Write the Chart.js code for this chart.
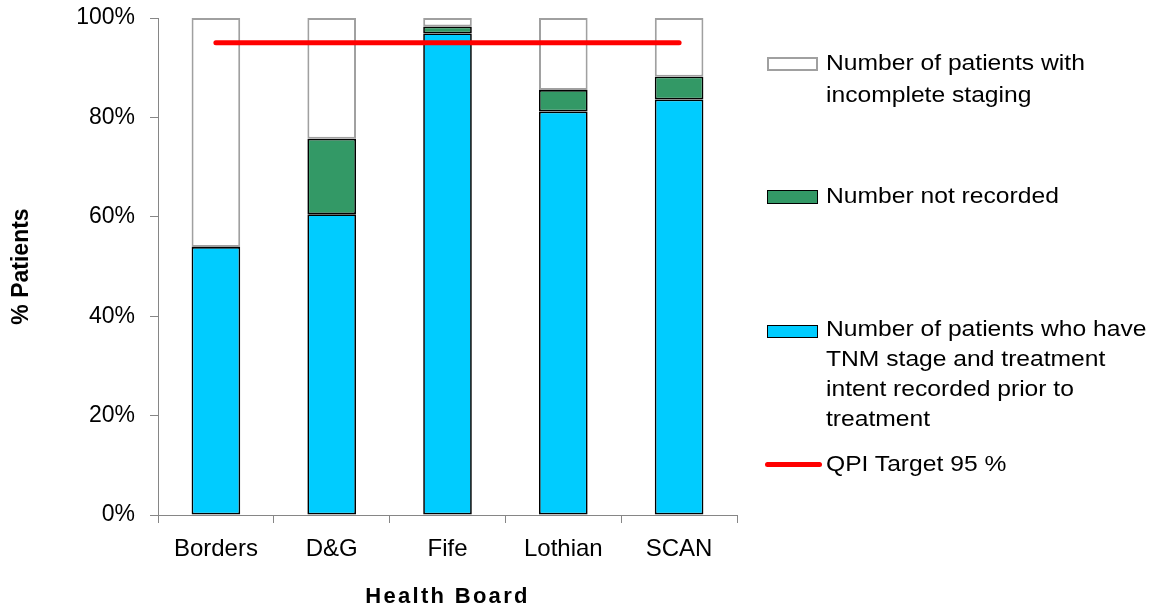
<!DOCTYPE html>
<html>
<head>
<meta charset="utf-8">
<title>Staging completeness by Health Board</title>
<script src="https://cdn.jsdelivr.net/npm/chart.js@4/dist/chart.umd.min.js"></script>
<style>
  html, body { margin: 0; padding: 0; background: #ffffff; }
  #wrap { position: relative; width: 1157px; height: 610px; overflow: hidden; }
  #c { position: absolute; left: 0; top: 0; }
  .key { position: absolute; box-sizing: border-box; }
  .txt {
    position: absolute; left: 826px; white-space: nowrap;
    font-family: "Liberation Sans", Arial, sans-serif; font-size: 22px; color: #000;
    transform: scaleX(1.12); transform-origin: 0 0;
  }
</style>
</head>
<body>
<div id="wrap">
  <canvas id="c" width="1157" height="610"></canvas>
  <div id="legend"></div>
</div>
<script>
// Health boards along the x axis
const boards = ['Borders', 'D&G', 'Fife', 'Lothian', 'SCAN'];

// Percent of patients in each stacked segment (bottom to top)
const stagedPct       = [53.9, 60.5, 96.9, 81.2, 83.6];
const notRecordedPct  = [0.0, 15.2, 1.4, 4.3, 4.6];
const incompletePct   = [46.1, 24.3, 1.7, 14.5, 11.8];

// QPI target line
const targetPct = [95, 95, 95, 95, 95];

// Y axis ticks
const yTickValues = [0, 20, 40, 60, 80, 100];

// Series names (legend lines)
const nameIncomplete  = ['Number of patients with', 'incomplete staging'];
const nameNotRecorded = ['Number not recorded'];
const nameStaged      = ['Number of patients who have', 'TNM stage and treatment', 'intent recorded prior to', 'treatment'];
const nameTarget      = ['QPI Target 95 %'];

const FONT = '"Liberation Sans", Arial, sans-serif';
const AXIS_GREY = '#868686';

// Space the letters of the x axis title a little wider
const titleSpacing = {
  id: 'titleSpacing',
  beforeDraw(chart) {
    const sc = chart.scales.x;
    if (sc && !sc._spacedTitle) {
      const orig = sc.drawTitle;
      sc.drawTitle = function () {
        const ctx = this.ctx;
        ctx.save();
        ctx.letterSpacing = '2.3px';
        orig.apply(this, arguments);
        ctx.restore();
      };
      sc._spacedTitle = true;
    }
  }
};

new Chart(document.getElementById('c'), {
  data: {
    labels: boards,
    datasets: [
      {
        type: 'line',
        label: nameTarget.join(' '),
        data: targetPct,
        stack: 'target',
        borderColor: '#ff0000',
        borderWidth: 5,
        borderCapStyle: 'round',
        pointRadius: 0,
        fill: false,
        order: -1
      },
      {
        type: 'bar',
        label: nameStaged.join(' '),
        data: stagedPct,
        stack: 'bars',
        backgroundColor: '#00ccff',
        borderColor: '#000000',
        borderWidth: 1.7,
        borderSkipped: false
      },
      {
        type: 'bar',
        label: nameNotRecorded.join(' '),
        data: notRecordedPct,
        stack: 'bars',
        backgroundColor: '#339966',
        borderColor: '#000000',
        borderWidth: 1.7,
        borderSkipped: false
      },
      {
        type: 'bar',
        label: nameIncomplete.join(' '),
        data: incompletePct,
        stack: 'bars',
        backgroundColor: '#ffffff',
        borderColor: '#a0a0a0',
        borderWidth: 2,
        borderSkipped: false
      }
    ]
  },
  options: {
    responsive: false,
    animation: false,
    devicePixelRatio: 1,
    categoryPercentage: 1,
    barPercentage: 0.42,
    layout: { padding: { left: 0, right: 420, top: 18, bottom: 0 } },
    plugins: { legend: { display: false }, tooltip: { enabled: false } },
    scales: {
      x: {
        stacked: true,
        offset: true,
        grid: {
          offset: true,
          drawOnChartArea: false,
          drawTicks: true,
          tickLength: 8,
          color: AXIS_GREY,
          tickColor: AXIS_GREY
        },
        border: { display: true, color: AXIS_GREY, width: 1 },
        ticks: {
          font: { family: FONT, size: 24 },
          color: '#000',
          padding: 12,
          maxRotation: 0
        },
        title: {
          display: true,
          text: 'Health Board',
          font: { family: FONT, size: 22, weight: 'bold', lineHeight: 1.2 },
          color: '#000',
          padding: { top: 0, bottom: 0 }
        },
        afterFit(scale) {
          scale.height = 95;
          scale.paddingLeft = 0;
          scale.paddingRight = 0;
        }
      },
      y: {
        stacked: true,
        min: 0,
        max: 100,
        afterBuildTicks(scale) { scale.ticks = yTickValues.map(v => ({ value: v })); },
        grid: {
          drawOnChartArea: false,
          drawTicks: true,
          tickLength: 8,
          color: AXIS_GREY,
          tickColor: AXIS_GREY
        },
        border: { display: true, color: AXIS_GREY, width: 1 },
        ticks: {
          font: { family: FONT, size: 23 },
          color: '#000',
          padding: 15,
          callback: v => v + '%'
        },
        title: {
          display: true,
          text: '% Patients',
          font: { family: FONT, size: 23, weight: 'bold', lineHeight: 1.2 },
          color: '#000',
          padding: { top: 8, bottom: 0 }
        },
        afterFit(scale) {
          scale.width = 158;
          scale.paddingTop = 0;
          scale.paddingBottom = 0;
        }
      }
    }
  },
  plugins: [titleSpacing]
});

// Legend on the right: key swatches and wrapped series names
const legend = document.getElementById('legend');
function addKey(style) {
  const d = document.createElement('div');
  d.className = 'key';
  Object.assign(d.style, style);
  legend.appendChild(d);
}
function addText(lines, top, lineHeight) {
  const d = document.createElement('div');
  d.className = 'txt';
  d.style.top = top + 'px';
  d.style.lineHeight = lineHeight + 'px';
  lines.forEach((t, i) => {
    if (i) d.appendChild(document.createElement('br'));
    d.appendChild(document.createTextNode(t));
  });
  legend.appendChild(d);
}

addKey({ left: '767px', top: '57px', width: '51px', height: '14px', background: '#fff', border: '2px solid #a0a0a0' });
addText(nameIncomplete, 47, 32);

addKey({ left: '767px', top: '190px', width: '51px', height: '14px', background: '#339966', border: '1.7px solid #000' });
addText(nameNotRecorded, 180, 32);

addKey({ left: '767px', top: '325px', width: '51px', height: '13px', background: '#00ccff', border: '1.7px solid #000' });
addText(nameStaged, 314, 30);

addKey({ left: '765px', top: '462px', width: '57px', height: '5px', background: '#ff0000', borderRadius: '3px' });
addText(nameTarget, 449, 30);
</script>
</body>
</html>
